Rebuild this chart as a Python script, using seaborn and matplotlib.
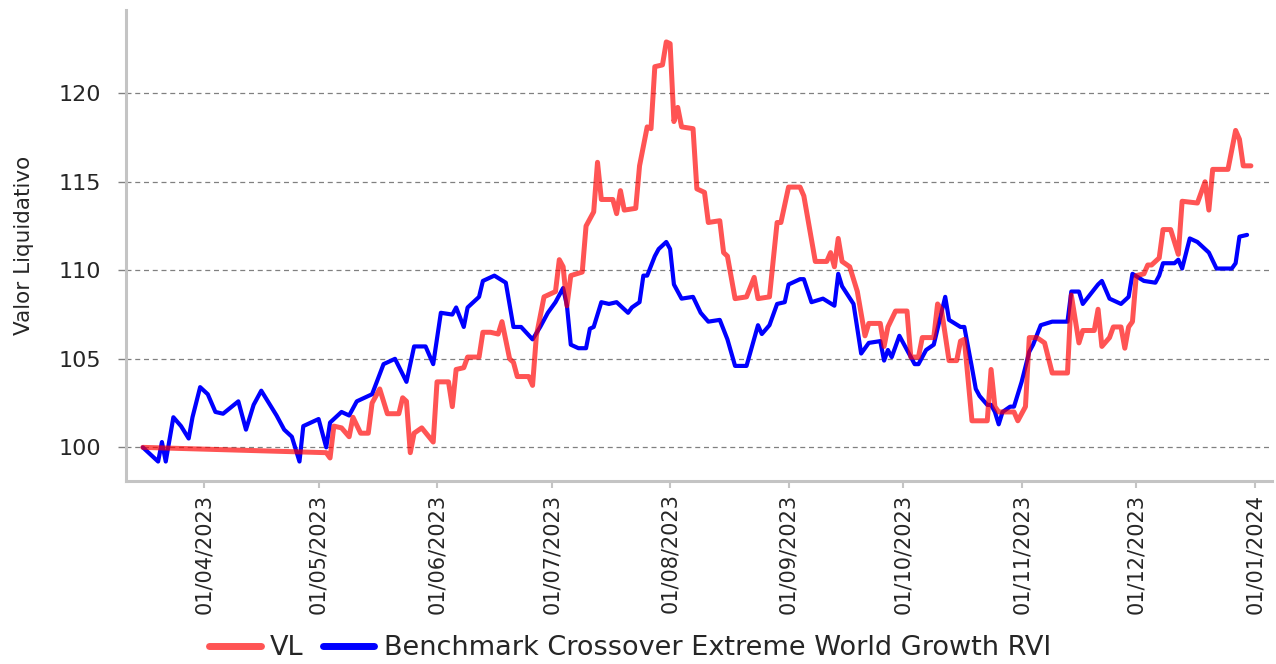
import pandas as pd
import seaborn as sns
import matplotlib.pyplot as plt
import matplotlib.dates as mdates

# VL (fund)
vl_dates = [
    '2023-03-16', '2023-05-03', '2023-05-04', '2023-05-05', '2023-05-07', '2023-05-09', '2023-05-10',
    '2023-05-12', '2023-05-14', '2023-05-15', '2023-05-17', '2023-05-19', '2023-05-22', '2023-05-23',
    '2023-05-24', '2023-05-25', '2023-05-26', '2023-05-28', '2023-05-31', '2023-06-01', '2023-06-04',
    '2023-06-05', '2023-06-06', '2023-06-08', '2023-06-09', '2023-06-12', '2023-06-13', '2023-06-15',
    '2023-06-17', '2023-06-18', '2023-06-20', '2023-06-21', '2023-06-22', '2023-06-25', '2023-06-26',
    '2023-06-27', '2023-06-29', '2023-07-02', '2023-07-03', '2023-07-04', '2023-07-05', '2023-07-06',
    '2023-07-09', '2023-07-10', '2023-07-12', '2023-07-13', '2023-07-14', '2023-07-17', '2023-07-18',
    '2023-07-19', '2023-07-20', '2023-07-23', '2023-07-24', '2023-07-26', '2023-07-27', '2023-07-28',
    '2023-07-30', '2023-07-31', '2023-08-01', '2023-08-02', '2023-08-03', '2023-08-04', '2023-08-07',
    '2023-08-08', '2023-08-10', '2023-08-11', '2023-08-14', '2023-08-15', '2023-08-16', '2023-08-18',
    '2023-08-21', '2023-08-23', '2023-08-24', '2023-08-27', '2023-08-29', '2023-08-30', '2023-09-01',
    '2023-09-04', '2023-09-05', '2023-09-08', '2023-09-11', '2023-09-12', '2023-09-13', '2023-09-14',
    '2023-09-15', '2023-09-17', '2023-09-19', '2023-09-21', '2023-09-22', '2023-09-25', '2023-09-26',
    '2023-09-27', '2023-09-29', '2023-10-02', '2023-10-03', '2023-10-05', '2023-10-06', '2023-10-09',
    '2023-10-10', '2023-10-11', '2023-10-13', '2023-10-15', '2023-10-16', '2023-10-17', '2023-10-19',
    '2023-10-23', '2023-10-24', '2023-10-25', '2023-10-26', '2023-10-30', '2023-10-31', '2023-11-02',
    '2023-11-03', '2023-11-05', '2023-11-07', '2023-11-09', '2023-11-13', '2023-11-14', '2023-11-16',
    '2023-11-17', '2023-11-20', '2023-11-21', '2023-11-22', '2023-11-24', '2023-11-25', '2023-11-27',
    '2023-11-28', '2023-11-29', '2023-11-30', '2023-12-01', '2023-12-03', '2023-12-04', '2023-12-05',
    '2023-12-07', '2023-12-08', '2023-12-10', '2023-12-12', '2023-12-13', '2023-12-17', '2023-12-19',
    '2023-12-20', '2023-12-21', '2023-12-25', '2023-12-27', '2023-12-28', '2023-12-29', '2023-12-31',
]
vl_values = [
    100.0, 99.7, 99.4, 101.2, 101.1, 100.6, 101.7,
    100.8, 100.8, 102.5, 103.3, 101.9, 101.9, 102.8,
    102.6, 99.7, 100.8, 101.1, 100.3, 103.7, 103.7,
    102.3, 104.4, 104.5, 105.1, 105.1, 106.5, 106.5,
    106.4, 107.1, 105.0, 104.8, 104.0, 104.0, 103.5,
    106.3, 108.5, 108.8, 110.6, 110.2, 108.0, 109.7,
    109.9, 112.5, 113.3, 116.1, 114.0, 114.0, 113.2,
    114.5, 113.4, 113.5, 115.9, 118.1, 118.0, 121.5,
    121.6, 122.9, 122.8, 118.4, 119.2, 118.1, 118.0,
    114.6, 114.4, 112.7, 112.8, 111.0, 110.8, 108.4,
    108.5, 109.6, 108.4, 108.5, 112.7, 112.7, 114.7,
    114.7, 114.2, 110.5, 110.5, 111.0, 110.2, 111.8,
    110.5, 110.2, 108.8, 106.3, 107.0, 107.0, 105.7,
    106.8, 107.7, 107.7, 105.1, 105.1, 106.2, 106.2,
    108.1, 107.8, 104.9, 104.9, 106.0, 106.1, 101.5,
    101.5, 104.4, 102.3, 102.0, 102.0, 101.5, 102.3,
    106.2, 106.2, 105.9, 104.2, 104.2, 108.6, 105.9,
    106.6, 106.6, 107.8, 105.7, 106.2, 106.8, 106.8,
    105.6, 106.8, 107.1, 109.7, 109.8, 110.3, 110.3,
    110.7, 112.3, 112.3, 110.9, 113.9, 113.8, 115.0,
    113.4, 115.7, 115.7, 117.9, 117.4, 115.9, 115.9,
]

# Benchmark
bench_dates = [
    '2023-03-16', '2023-03-20', '2023-03-21', '2023-03-22', '2023-03-24', '2023-03-26', '2023-03-28',
    '2023-03-29', '2023-03-31', '2023-04-02', '2023-04-04', '2023-04-06', '2023-04-10', '2023-04-12',
    '2023-04-14', '2023-04-16', '2023-04-20', '2023-04-22', '2023-04-24', '2023-04-26', '2023-04-27',
    '2023-05-01', '2023-05-03', '2023-05-04', '2023-05-07', '2023-05-09', '2023-05-11', '2023-05-15',
    '2023-05-18', '2023-05-21', '2023-05-24', '2023-05-26', '2023-05-29', '2023-05-31', '2023-06-02',
    '2023-06-05', '2023-06-06', '2023-06-08', '2023-06-09', '2023-06-12', '2023-06-13', '2023-06-16',
    '2023-06-19', '2023-06-21', '2023-06-23', '2023-06-26', '2023-06-28', '2023-06-30', '2023-07-02',
    '2023-07-04', '2023-07-05', '2023-07-06', '2023-07-08', '2023-07-10', '2023-07-11', '2023-07-12',
    '2023-07-14', '2023-07-16', '2023-07-18', '2023-07-21', '2023-07-22', '2023-07-24', '2023-07-25',
    '2023-07-26', '2023-07-28', '2023-07-29', '2023-07-31', '2023-08-01', '2023-08-02', '2023-08-04',
    '2023-08-07', '2023-08-09', '2023-08-11', '2023-08-14', '2023-08-16', '2023-08-18', '2023-08-21',
    '2023-08-24', '2023-08-25', '2023-08-27', '2023-08-29', '2023-08-31', '2023-09-01', '2023-09-04',
    '2023-09-05', '2023-09-07', '2023-09-10', '2023-09-13', '2023-09-14', '2023-09-15', '2023-09-18',
    '2023-09-20', '2023-09-22', '2023-09-25', '2023-09-26', '2023-09-27', '2023-09-28', '2023-09-30',
    '2023-10-04', '2023-10-05', '2023-10-07', '2023-10-09', '2023-10-10', '2023-10-12', '2023-10-13',
    '2023-10-16', '2023-10-17', '2023-10-19', '2023-10-20', '2023-10-21', '2023-10-23', '2023-10-24',
    '2023-10-25', '2023-10-26', '2023-10-27', '2023-10-29', '2023-10-30', '2023-11-01', '2023-11-03',
    '2023-11-04', '2023-11-06', '2023-11-09', '2023-11-13', '2023-11-14', '2023-11-16', '2023-11-17',
    '2023-11-21', '2023-11-22', '2023-11-24', '2023-11-27', '2023-11-29', '2023-11-30', '2023-12-03',
    '2023-12-06', '2023-12-07', '2023-12-08', '2023-12-11', '2023-12-12', '2023-12-13', '2023-12-15',
    '2023-12-17', '2023-12-20', '2023-12-22', '2023-12-26', '2023-12-27', '2023-12-28', '2023-12-30',
]
bench_values = [
    100.0, 99.2, 100.3, 99.2, 101.7, 101.2, 100.5,
    101.7, 103.4, 103.0, 102.0, 101.9, 102.6, 101.0,
    102.4, 103.2, 101.8, 101.0, 100.6, 99.2, 101.2,
    101.6, 100.0, 101.4, 102.0, 101.8, 102.6, 103.0,
    104.7, 105.0, 103.7, 105.7, 105.7, 104.7, 107.6,
    107.5, 107.9, 106.8, 107.9, 108.5, 109.4, 109.7,
    109.3, 106.8, 106.8, 106.1, 106.8, 107.6, 108.2,
    109.0, 108.0, 105.8, 105.6, 105.6, 106.7, 106.8,
    108.2, 108.1, 108.2, 107.6, 107.9, 108.2, 109.7,
    109.7, 110.8, 111.2, 111.6, 111.2, 109.2, 108.4,
    108.5, 107.6, 107.1, 107.2, 106.1, 104.6, 104.6,
    106.9, 106.4, 106.9, 108.1, 108.2, 109.2, 109.5,
    109.5, 108.2, 108.4, 108.0, 109.8, 109.1, 108.1,
    105.3, 105.9, 106.0, 104.9, 105.5, 105.1, 106.3,
    104.7, 104.7, 105.5, 105.8, 106.7, 108.5, 107.2,
    106.8, 106.8, 104.5, 103.3, 102.9, 102.4, 102.4,
    102.0, 101.3, 102.0, 102.3, 102.3, 103.7, 105.4,
    105.8, 106.9, 107.1, 107.1, 108.8, 108.8, 108.1,
    109.2, 109.4, 108.4, 108.1, 108.5, 109.8, 109.4,
    109.3, 109.7, 110.4, 110.4, 110.6, 110.1, 111.8,
    111.6, 111.0, 110.1, 110.1, 110.4, 111.9, 112.0,
]

vl_label = 'VL'
bench_label = 'Benchmark Crossover Extreme World Growth RVI'
y_ticks = [100, 105, 110, 115, 120]

vl_df = pd.DataFrame({'date': pd.to_datetime(vl_dates), 'value': vl_values})
bench_df = pd.DataFrame({'date': pd.to_datetime(bench_dates), 'value': bench_values})

sns.set_theme(style='white')
plt.rcParams['font.family'] = ['DejaVu Sans']

fig = plt.figure(figsize=(12.76, 6.64), dpi=100)
ax = fig.add_axes([0.0987, 0.2756, 0.8981, 0.7093])

sns.lineplot(data=bench_df, x='date', y='value', color='#0000ff', linewidth=3.0,
             errorbar=None, label=bench_label, ax=ax)
sns.lineplot(data=vl_df, x='date', y='value', color='#ff0000', alpha=0.67, linewidth=3.6,
             errorbar=None, label=vl_label, ax=ax)

ax.set_xlim(pd.Timestamp('2023-03-11 14:00'), pd.Timestamp('2024-01-05 12:00'))
ax.set_ylim(98.1, 124.7)
ax.set_yticks(y_ticks)
ax.xaxis.set_major_locator(mdates.MonthLocator(bymonthday=1))
ax.xaxis.set_major_formatter(mdates.DateFormatter('%d/%m/%Y'))

ax.yaxis.grid(True, color='#808080', linestyle=(0, (4, 3)), linewidth=0.9)
ax.xaxis.grid(False)

for side in ['top', 'right']:
    ax.spines[side].set_visible(False)
for side in ['left', 'bottom']:
    ax.spines[side].set_color('#c4c4c4')
    ax.spines[side].set_linewidth(2.2)

ax.tick_params(axis='x', which='major', bottom=True, length=5, width=1.5, color='#c4c4c4',
               labelsize=15, pad=4, labelrotation=90)
ax.tick_params(axis='y', which='major', left=True, length=6, width=1, color='#808080',
               labelsize=16, pad=12)

ax.set_xlabel('')
ax.set_ylabel('Valor Liquidativo', fontsize=15.5)
ax.yaxis.set_label_coords(-0.08, 0.5)

handles, labels = ax.get_legend_handles_labels()
ax.get_legend().remove()
order = [labels.index(vl_label), labels.index(bench_label)]
leg = fig.legend([handles[i] for i in order], [labels[i] for i in order],
                 loc='center', bbox_to_anchor=(630 / 1276, 1 - 648 / 664), ncol=2,
                 frameon=False, fontsize=19.5, handlelength=1.9, handletextpad=0.35,
                 columnspacing=0.7)
for line in leg.get_lines():
    line.set_linewidth(5)

fig.savefig('out.png', dpi=100)
